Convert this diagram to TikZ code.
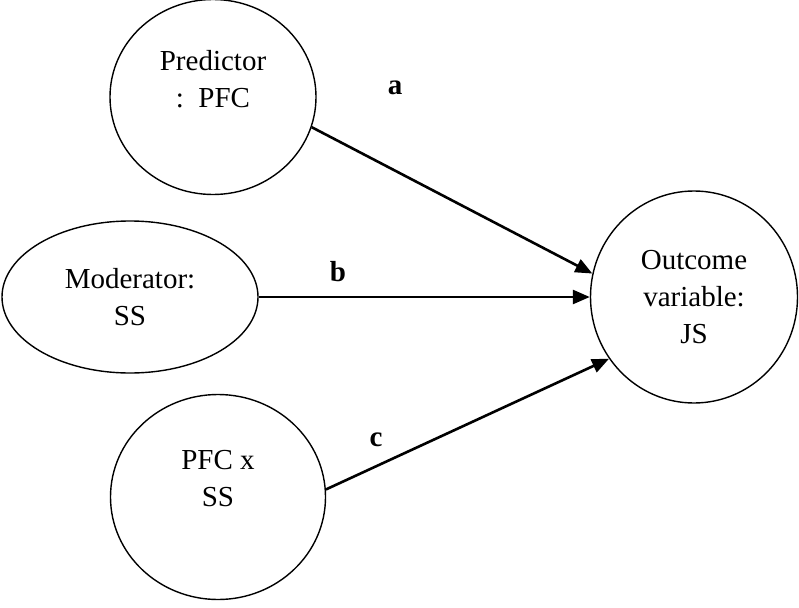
\documentclass[tikz,border=0pt]{standalone}
\usepackage{fontspec}
\setmainfont{Liberation Serif}
\usetikzlibrary{positioning}
\usetikzlibrary{shapes.geometric}
\usetikzlibrary{arrows.meta}
\begin{document}
\begin{tikzpicture}[x=1pt,y=-1pt,
    var/.style={draw,ellipse,line width=1.4pt,inner sep=0pt,align=center,
        font=\fontsize{29}{37}\selectfont},
    coef/.style={font=\fontsize{29}{30}\selectfont\bfseries},
    path/.style={line width=2.6pt,-{Triangle[length=17pt,width=14pt]}}]
    \useasboundingbox (0,0) rectangle (799,607);
    \node [var,minimum width=206pt,minimum height=195pt] (预测) at (213,97) {Predictor\\:\ \ PFC\\ \mbox{}};
    \node [var,minimum width=256pt,minimum height=152pt] (调节) at (130,297) {Moderator:\\SS};
    \node [var,minimum width=215pt,minimum height=205pt] (交互) at (218,497) {PFC x\\SS\\ \mbox{}};
    \node [var,minimum width=207pt,minimum height=212pt] (结果) at (694,297) {Outcome\\variable:\\JS};
    \node [coef] (系数a) at (395,88) {a};
    \node [coef] (系数b) at (338,272) {b};
    \node [coef] (系数c) at (376,440) {c};
    \path[path]
        (预测.-17) edge (结果.167)
        (调节.east) edge (结果.west)
        (交互.4) edge (结果.-144)
        ;
\end{tikzpicture}
\end{document}
